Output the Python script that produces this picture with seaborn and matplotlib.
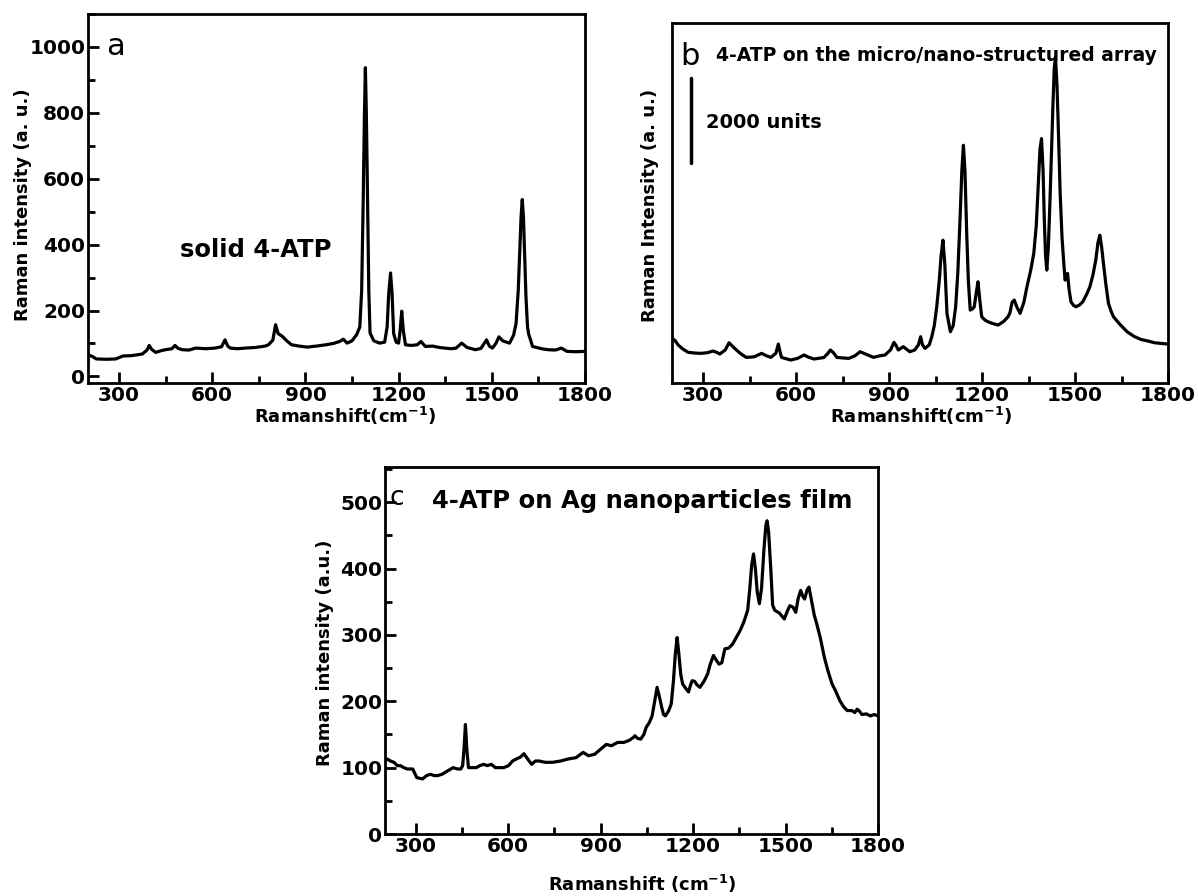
import numpy as np
import pandas as pd
import matplotlib
matplotlib.use("Agg")
import matplotlib.pyplot as plt
import seaborn as sns
from matplotlib.ticker import MultipleLocator

# ---------------- data ----------------
a_shift = [200, 215, 227, 260, 289, 313, 340, 375, 390, 397, 405, 418, 435, 449, 470, 480, 490, 504,
           525, 547, 580, 609, 630, 641, 650, 658, 680, 707, 740, 770, 781, 795, 804, 812, 825, 840,
           855, 880, 905, 935, 966, 990, 1010, 1022, 1034, 1050, 1065, 1075, 1081, 1086, 1090, 1093,
           1096, 1100, 1104, 1108, 1120, 1139, 1155, 1163, 1168, 1174, 1179, 1184, 1192, 1200, 1205,
           1210, 1215, 1222, 1240, 1260, 1272, 1286, 1310, 1330, 1348, 1370, 1385, 1403, 1420, 1447,
           1465, 1483, 1492, 1502, 1513, 1523, 1535, 1557, 1570, 1578, 1585, 1590, 1594, 1598, 1602,
           1606, 1610, 1615, 1619, 1625, 1631, 1660, 1681, 1705, 1724, 1742, 1770, 1800]
a_int = [66, 60, 53, 52, 53, 62, 63, 68, 80, 94, 82, 73, 78, 81, 84, 94, 85, 81,
         80, 86, 84, 86, 90, 111, 92, 86, 84, 86, 88, 92, 96, 110, 157, 130, 122, 108,
         96, 92, 89, 92, 96, 100, 106, 113, 101, 108, 127, 150, 260, 537, 800, 937,
         800, 537, 260, 132, 108, 101, 104, 150, 250, 314, 250, 130, 104, 101, 140,
         198, 140, 96, 94, 96, 106, 91, 92, 88, 86, 84, 86, 101, 88, 81,
         85, 111, 92, 86, 100, 120, 108, 101, 125, 160, 260, 380, 480, 537, 480,
         360, 240, 150, 127, 110, 91, 84, 81, 80, 86, 76, 75, 76]

b_shift = [200, 210, 220, 235, 252, 275, 294, 315, 332, 345, 354, 372, 384, 393, 402, 420, 439, 455,
           466, 489, 505, 519, 535, 543, 548, 553, 583, 605, 626, 640, 658, 690, 703, 711, 720, 732,
           750, 770, 790, 807, 825, 850, 870, 887, 905, 916, 923, 930, 946, 967, 983, 995, 1002,
           1008, 1016, 1030, 1038, 1046, 1054, 1062, 1068, 1074, 1080, 1087, 1098, 1107, 1115, 1122,
           1129, 1135, 1140, 1145, 1151, 1156, 1162, 1170, 1175, 1181, 1187, 1193, 1199, 1210, 1219,
           1235, 1252, 1270, 1284, 1290, 1297, 1304, 1313, 1323, 1335, 1345, 1357, 1367, 1375, 1381,
           1387, 1392, 1397, 1401, 1405, 1409, 1414, 1419, 1424, 1429, 1433, 1437, 1442, 1447, 1452,
           1458, 1464, 1468, 1472, 1476, 1481, 1487, 1495, 1503, 1515, 1525, 1537, 1548, 1558, 1567,
           1574, 1580, 1586, 1593, 1600, 1608, 1616, 1624, 1645, 1668, 1690, 1712, 1735, 1756, 1780,
           1800]
b_int = [1052, 1000, 894, 800, 722, 705, 698, 715, 753, 720, 682, 780, 948, 880, 816, 700, 604, 610,
         620, 698, 640, 604, 700, 918, 750, 604, 541, 580, 659, 610, 565, 600, 700, 777, 720, 604,
         590, 580, 640, 737, 680, 604, 640, 659, 780, 958, 880, 777, 855, 737, 777, 900, 1090,
         900, 816, 900, 1090, 1350, 1796, 2400, 3000, 3365, 2800, 1640, 1208, 1350, 1796, 2600,
         3835, 5000, 5600, 5000, 3443, 2400, 1718, 1750, 1796, 2100, 2385, 1950, 1561, 1480, 1443,
         1400, 1365, 1450, 1561, 1650, 1900, 1953, 1780, 1640, 1900, 2266, 2650, 3052, 3700, 4619,
         5500, 5757, 5000, 3835, 3000, 2659, 3200, 4228, 5400, 6581, 7400, 7678, 7000, 5795, 4500,
         3443, 2800, 2424, 2500, 2581, 2200, 1913, 1830, 1796, 1840, 1913, 2080, 2266, 2550, 2894,
         3300, 3482, 3200, 2737, 2300, 1875, 1700, 1561, 1380, 1208, 1100, 1027, 990, 949, 930,
         918]

c_shift = [200, 207, 218, 229, 240, 250, 261, 272, 290, 303, 322, 335, 347, 360, 371, 385, 396, 410,
           421, 435, 446, 452, 456, 461, 466, 471, 484, 496, 508, 520, 532, 545, 558, 570, 585, 601,
           614, 626, 640, 651, 660, 668, 676, 688, 700, 720, 744, 770, 794, 820, 843, 860, 880, 900,
           918, 935, 955, 975, 992, 1005, 1011, 1020, 1030, 1040, 1048, 1058, 1067, 1075, 1083, 1090,
           1098, 1104, 1110, 1120, 1129, 1136, 1142, 1148, 1153, 1160, 1166, 1175, 1185, 1192, 1197,
           1205, 1212, 1222, 1235, 1247, 1255, 1266, 1275, 1284, 1293, 1303, 1315, 1328, 1340, 1353,
           1365, 1377, 1384, 1390, 1396, 1402, 1408, 1415, 1422, 1430, 1436, 1440, 1445, 1452, 1458,
           1465, 1480, 1496, 1505, 1514, 1524, 1533, 1541, 1549, 1556, 1562, 1570, 1576, 1585, 1593,
           1601, 1613, 1626, 1638, 1651, 1663, 1676, 1688, 1700, 1715, 1725, 1732, 1738, 1748, 1762,
           1775, 1788, 1800]
c_int = [110, 113, 110, 108, 103, 103, 100, 98, 98, 85, 83, 88, 90, 88, 88, 90, 93, 97,
         100, 98, 98, 103, 125, 165, 125, 100, 100, 100, 103, 105, 103, 105, 100, 100, 100, 103,
         110, 113, 116, 121, 115, 110, 105, 110, 110, 108, 108, 110, 113, 115, 123, 118, 120, 128,
         135, 133, 138, 138, 141, 145, 148, 144, 143, 150, 161, 168, 178, 200, 221, 208,
         191, 180, 178, 185, 196, 230, 270, 296, 275, 240, 226, 220, 214, 225, 231,
         230, 225, 221, 230, 241, 255, 269, 262, 256, 258, 279, 280, 286, 296, 307,
         320, 337, 370, 405, 422, 400, 365, 347, 370, 430, 465, 472, 455, 400, 345,
         337, 333, 324, 335, 344, 342, 334, 355, 367, 358, 354, 368, 372, 350, 330,
         317, 295, 266, 245, 226, 215, 201, 192, 186, 186, 183, 188, 186, 180, 181,
         178, 180, 178]

x_ticks = [300, 600, 900, 1200, 1500, 1800]
a_yticks = [0, 200, 400, 600, 800, 1000]
c_yticks = [0, 100, 200, 300, 400, 500]
scale_bar = [5177, 7177]   # 2000 units

# ---------------- style ----------------
sns.set_theme(style="white")
plt.rcParams['font.family'] = ['DejaVu Sans']
plt.rcParams['mathtext.fontset'] = 'dejavusans'
plt.rcParams['font.weight'] = 'bold'
plt.rcParams['axes.labelweight'] = 'bold'
plt.rcParams['axes.edgecolor'] = 'black'
plt.rcParams['axes.labelcolor'] = 'black'
plt.rcParams['text.color'] = 'black'
plt.rcParams['axes.linewidth'] = 2.0
plt.rcParams['xtick.color'] = 'black'
plt.rcParams['ytick.color'] = 'black'

fig = plt.figure(figsize=(11.98, 8.96), dpi=100)
W, H = 1198, 896

def add_ax(l, r, t, b):
    return fig.add_axes([l / W, 1 - b / H, (r - l) / W, (b - t) / H])

axA = add_ax(88, 585, 14, 383)
axB = add_ax(672, 1168, 23, 383)
axC = add_ax(385, 878, 467, 834)

LW = 2.3
TICKFS = 14.5
LABFS = 13

def style_axes(ax, show_y=True):
    for s in ax.spines.values():
        s.set_visible(True)
        s.set_color('black')
        s.set_linewidth(2.0)
    ax.set_xlim(200, 1800)
    ax.set_xticks(x_ticks)
    ax.xaxis.set_minor_locator(MultipleLocator(150))
    ax.tick_params(axis='both', which='major', direction='in', length=8, width=2,
                   labelsize=TICKFS, top=False, right=False, bottom=True, left=show_y, pad=2)
    ax.tick_params(axis='both', which='minor', direction='in', length=5, width=2,
                   top=False, right=False, bottom=True, left=show_y)
    for lbl in ax.get_xticklabels() + ax.get_yticklabels():
        lbl.set_fontweight('bold')

def set_labels(ax, xl, yl, xpos, ypos):
    ax.set_xlabel(xl, fontsize=LABFS, fontweight='bold', va='baseline')
    ax.set_ylabel(yl, fontsize=LABFS, fontweight='bold', va='center')
    ax.xaxis.set_label_coords(*xpos)
    ax.yaxis.set_label_coords(*ypos)

# ---- panel a ----
dfa = pd.DataFrame({'shift': a_shift, 'intensity': a_int})
sns.lineplot(data=dfa, x='shift', y='intensity', ax=axA, color='black', linewidth=LW, estimator=None)
axA.set_ylim(-20, 1100)
axA.set_yticks(a_yticks)
axA.yaxis.set_minor_locator(MultipleLocator(100))
style_axes(axA)
set_labels(axA, 'Ramanshift(cm$^{\\mathbf{-1}}$)', 'Raman intensity (a. u.)',
           (0.518, -0.108), (-0.131, 0.482))
axA.text(258, 1000, 'a', fontsize=22, fontweight='normal', va='center', ha='left')
axA.text(497, 385, 'solid 4-ATP', fontsize=17.5, fontweight='bold', va='center', ha='left')

# ---- panel b ----
dfb = pd.DataFrame({'shift': b_shift, 'intensity': b_int})
sns.lineplot(data=dfb, x='shift', y='intensity', ax=axB, color='black', linewidth=LW, estimator=None)
axB.set_ylim(0, 8480)
axB.set_yticks([])
style_axes(axB, show_y=False)
set_labels(axB, 'Ramanshift(cm$^{\\mathbf{-1}}$)', 'Raman Intensity (a. u.)',
           (0.503, -0.111), (-0.045, 0.494))
axB.text(226, 7700, 'b', fontsize=22, fontweight='normal', va='center', ha='left')
axB.text(342, 7720, '4-ATP on the micro/nano-structured array', fontsize=13.5,
         fontweight='bold', va='center', ha='left')
axB.plot([262, 262], scale_bar, color='black', linewidth=2.5)
axB.text(310, 6141, '2000 units', fontsize=14, fontweight='bold', va='center', ha='left')

# ---- panel c ----
dfc = pd.DataFrame({'shift': c_shift, 'intensity': c_int})
sns.lineplot(data=dfc, x='shift', y='intensity', ax=axC, color='black', linewidth=LW, estimator=None)
axC.set_ylim(0, 553)
axC.set_yticks(c_yticks)
axC.yaxis.set_minor_locator(MultipleLocator(50))
style_axes(axC)
set_labels(axC, 'Ramanshift (cm$^{\\mathbf{-1}}$)', 'Raman intensity (a.u.)',
           (0.521, -0.155), (-0.122, 0.493))
axC.text(213, 507, 'c', fontsize=19, fontweight='normal', va='center', ha='left')
axC.text(352, 502, '4-ATP on Ag nanoparticles film', fontsize=17.5, fontweight='bold',
         va='center', ha='left')

fig.savefig('out.png', dpi=100, facecolor='white')
